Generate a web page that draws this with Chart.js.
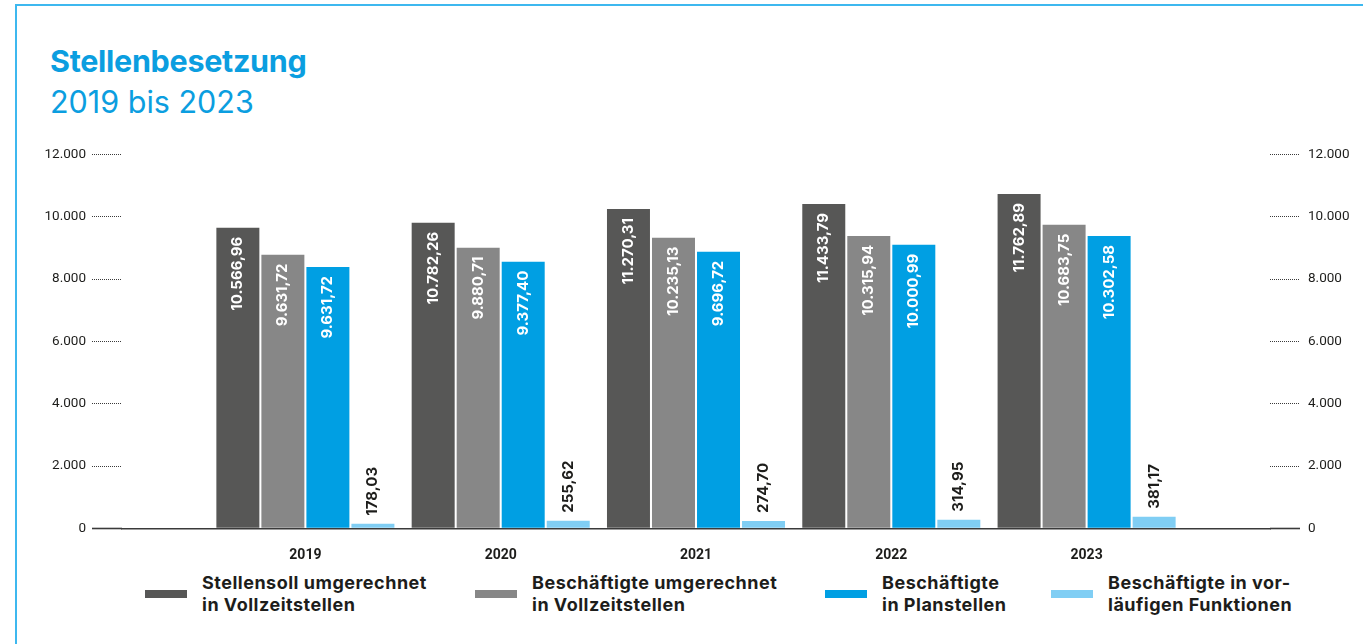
<!DOCTYPE html>
<html lang="de">
<head>
<meta charset="utf-8">
<title>Stellenbesetzung 2019 bis 2023</title>
<script src="https://cdn.jsdelivr.net/npm/chart.js@4.4.1/dist/chart.umd.min.js"></script>
<style>
  html, body { margin: 0; padding: 0; background: #fff; }
  body { width: 1363px; height: 644px; position: relative; overflow: hidden; font-family: Inter, sans-serif; }
  .frame { position: absolute; left: 15px; top: 4px; width: 1400px; height: 700px;
           border-left: 2px solid #3db8ef; border-top: 2px solid #3db8ef; }
  h1, h2 { position: absolute; left: 50px; margin: 0; color: #0b9ee0; font-size: 30.5px; line-height: 36px; white-space: nowrap; }
  h1 { top: 43px; font-weight: 700; letter-spacing: -0.3px; }
  h2 { top: 84px; font-weight: 400; }
  #wrap { position: absolute; left: 0; top: 130px; width: 1363px; height: 440px; }
  .item { position: absolute; top: 572px; }
  .item .sw { position: absolute; left: 0; top: 18px; width: 42px; height: 8px; }
  .item .txt { position: absolute; left: 57px; top: 0; white-space: nowrap; font-weight: 700;
               font-size: 18px; line-height: 22px; letter-spacing: 0.5px; color: #1d1d1b; }
</style>
</head>
<body>
<div class="frame"></div>
<h1>Stellenbesetzung</h1>
<h2>2019 bis 2023</h2>
<div id="wrap"><canvas id="chart"></canvas></div>
<div id="legend"></div>

<script>
// years on the x axis
const years = [2019, 2020, 2021, 2022, 2023];

// bar heights as drawn in the picture
const stellensoll = [9650, 9810, 10250, 10410, 10730];
const beschVollzeit = [8785, 9010, 9330, 9385, 9745];
const beschPlanstellen = [8390, 8560, 8880, 9105, 9385];
const beschVorlaeufig = [150, 245, 235, 276, 372];

// printed value labels
const stellensollLabels = ['10.566,96', '10.782,26', '11.270,31', '11.433,79', '11.762,89'];
const beschVollzeitLabels = ['9.631,72', '9.880,71', '10.235,13', '10.315,94', '10.683,75'];
const beschPlanstellenLabels = ['9.631,72', '9.377,40', '9.696,72', '10.000,99', '10.302,58'];
const beschVorlaeufigLabels = ['178,03', '255,62', '274,70', '314,95', '381,17'];

const seriesNames = [
    ['Stellensoll umgerechnet', 'in Vollzeitstellen'],
    ['Beschäftigte umgerechnet', 'in Vollzeitstellen'],
    ['Beschäftigte', 'in Planstellen'],
    ['Beschäftigte in vor-', 'läufigen Funktionen']
];
const seriesColors = ['#575756', '#878787', '#009fe3', '#80cef4'];
const yTicks = [0, 2000, 4000, 6000, 8000, 10000, 12000];

const legendLeft = [145, 475, 825, 1051];

function toPoints(values) {
    return values.map((v, i) => ({ x: years[i], y: v }));
}

function fmt(v) {
    return String(v).replace(/\B(?=(\d{3})+(?!\d))/g, '.');
}

const allValues = [stellensoll, beschVollzeit, beschPlanstellen, beschVorlaeufig];
const allLabels = [stellensollLabels, beschVollzeitLabels, beschPlanstellenLabels, beschVorlaeufigLabels];

const datasets = allValues.map((values, i) => ({
    label: seriesNames[i].join(' '),
    data: toPoints(values),
    valueLabels: allLabels[i],
    backgroundColor: seriesColors[i],
    borderWidth: 0,
    categoryPercentage: 0.922,
    barPercentage: 0.955
}));

// value labels, turned by 90 degrees
const barLabels = {
    id: 'barLabels',
    afterDatasetsDraw(chart) {
        const ctx = chart.ctx;
        chart.data.datasets.forEach((ds, i) => {
            const meta = chart.getDatasetMeta(i);
            meta.data.forEach((bar, j) => {
                ctx.save();
                ctx.font = '700 15px Inter, sans-serif';
                ctx.textBaseline = 'middle';
                if (i < 3) {
                    ctx.translate(bar.x, bar.y + 9);
                    ctx.rotate(-Math.PI / 2);
                    ctx.textAlign = 'right';
                    ctx.fillStyle = '#ffffff';
                } else {
                    ctx.translate(bar.x, bar.y - 8);
                    ctx.rotate(-Math.PI / 2);
                    ctx.textAlign = 'left';
                    ctx.fillStyle = '#1d1d1b';
                }
                ctx.fillText(ds.valueLabels[j], 0, 0);
                ctx.restore();
            });
        });
    }
};

const yGrid = {
    drawOnChartArea: false,
    drawTicks: true,
    tickLength: 30,
    tickColor: '#3a3a3a',
    tickWidth: ctx => (ctx.tick && ctx.tick.value === 0 ? 1.6 : 1),
    tickBorderDash: ctx => (ctx.tick && ctx.tick.value === 0 ? [] : [1, 1])
};

const yTickOpts = {
    stepSize: 2000,
    color: '#1d1d1b',
    font: { family: 'Roboto', size: 13.5 },
    callback: v => fmt(v)
};

new Chart(document.getElementById('chart'), {
    type: 'bar',
    data: { datasets: datasets },
    options: {
        responsive: true,
        maintainAspectRatio: false,
        animation: false,
        layout: { padding: { top: 24.5, left: 30, right: 0, bottom: 0 } },
        plugins: {
            legend: { display: false },
            tooltip: { enabled: false }
        },
        scales: {
            x: {
                type: 'linear',
                offset: false,
                min: 2018.061,
                max: 2023.939,
                grid: { display: false, offset: false },
                border: { display: true, color: '#3a3a3a', width: 1.6 },
                ticks: {
                    stepSize: 1,
                    includeBounds: false,
                    padding: 11,
                    color: '#1d1d1b',
                    font: { family: 'Roboto', size: 14, weight: '700' },
                    callback: v => (years.includes(v) ? String(v) : null)
                },
                afterFit: scale => { scale.height = 41.7; }
            },
            y: {
                position: 'left',
                min: 0,
                max: 12000,
                afterBuildTicks: scale => { scale.ticks = yTicks.map(v => ({ value: v })); },
                grid: yGrid,
                border: { display: false },
                ticks: Object.assign({ padding: 6 }, yTickOpts),
                afterFit: scale => { scale.width = 92; }
            },
            yRight: {
                position: 'right',
                min: 0,
                max: 12000,
                afterBuildTicks: scale => { scale.ticks = yTicks.map(v => ({ value: v })); },
                grid: yGrid,
                border: { display: false },
                ticks: Object.assign({ padding: 8 }, yTickOpts),
                afterFit: scale => { scale.width = 93; }
            }
        }
    },
    plugins: [barLabels]
});

// legend with two-line labels
const legend = document.getElementById('legend');
seriesNames.forEach((lines, i) => {
    const item = document.createElement('div');
    item.className = 'item';
    item.style.left = legendLeft[i] + 'px';
    const sw = document.createElement('span');
    sw.className = 'sw';
    sw.style.background = seriesColors[i];
    const txt = document.createElement('div');
    txt.className = 'txt';
    txt.innerHTML = lines.join('<br>');
    item.appendChild(sw);
    item.appendChild(txt);
    legend.appendChild(item);
});
</script>
</body>
</html>
